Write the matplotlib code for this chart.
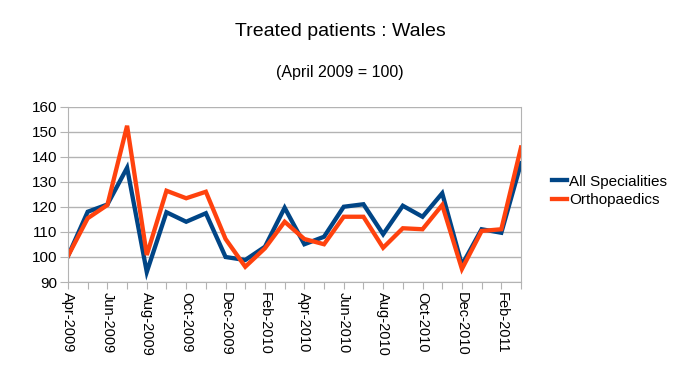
import matplotlib.pyplot as plt

plt.rcParams['font.family'] = ['Liberation Sans', 'DejaVu Sans']

months = ['Apr-2009', 'May-2009', 'Jun-2009', 'Jul-2009', 'Aug-2009', 'Sep-2009',
          'Oct-2009', 'Nov-2009', 'Dec-2009', 'Jan-2010', 'Feb-2010', 'Mar-2010',
          'Apr-2010', 'May-2010', 'Jun-2010', 'Jul-2010', 'Aug-2010', 'Sep-2010',
          'Oct-2010', 'Nov-2010', 'Dec-2010', 'Jan-2011', 'Feb-2011', 'Mar-2011']
all_spec = [100.4, 118.1, 121.0, 135.7, 94.0, 117.9, 114.1, 117.5, 100.0, 98.8, 104.1, 119.7,
            105.1, 108.1, 120.1, 121.1, 109.1, 120.5, 116.1, 125.5, 96.8, 111.1, 109.7, 137.5]
ortho = [100.4, 115.5, 120.8, 152.5, 100.8, 126.5, 123.5, 126.1, 107.2, 96.1, 103.5, 114.1,
         107.2, 105.1, 116.1, 116.1, 103.7, 111.5, 111.1, 120.8, 95.2, 110.4, 111.1, 143.8]

blue = '#004586'
orange = '#ff420e'
grid_c = '#b3b3b3'

fig = plt.figure(figsize=(6.81, 3.84), dpi=100)
ax = fig.add_axes([68 / 681, 1 - 282 / 384, (521 - 68) / 681, (282 - 107) / 384])

pos = list(range(len(months)))
ax.plot(pos, all_spec, color=blue, lw=3.1, label='All Specialities', solid_joinstyle='miter')
ax.plot(pos, ortho, color=orange, lw=3.1, label='Orthopaedics', solid_joinstyle='miter')

ax.set_xlim(0, len(months) - 1)
ax.set_ylim(90, 160)
ax.set_yticks(range(90, 161, 10))
ax.set_xticks(pos)
ax.set_xticklabels([m if i % 2 == 0 else '' for i, m in enumerate(months)],
                   rotation=270, fontsize=10.5)
ax.tick_params(axis='y', labelsize=11, length=6, color=grid_c, pad=2)
ax.tick_params(axis='x', length=5, color=grid_c, pad=2)
ax.grid(axis='y', color=grid_c, lw=1)
ax.set_axisbelow(True)
for s in ['left', 'bottom', 'right']:
    ax.spines[s].set_color(grid_c)
ax.spines['top'].set_visible(False)

fig.text(340 / 681, 1 - 31 / 384, 'Treated patients : Wales', ha='center', va='center', fontsize=14)
fig.text(340 / 681, 1 - 72 / 384, '(April 2009 = 100)', ha='center', va='center', fontsize=11.5)

fig.legend(loc='center left', bbox_to_anchor=(552 / 681, 1 - 191 / 384), frameon=False,
           fontsize=11, handlelength=1.0, handletextpad=0.1, labelspacing=0.3,
           borderaxespad=0, borderpad=0)

fig.savefig('out.png', dpi=100)
